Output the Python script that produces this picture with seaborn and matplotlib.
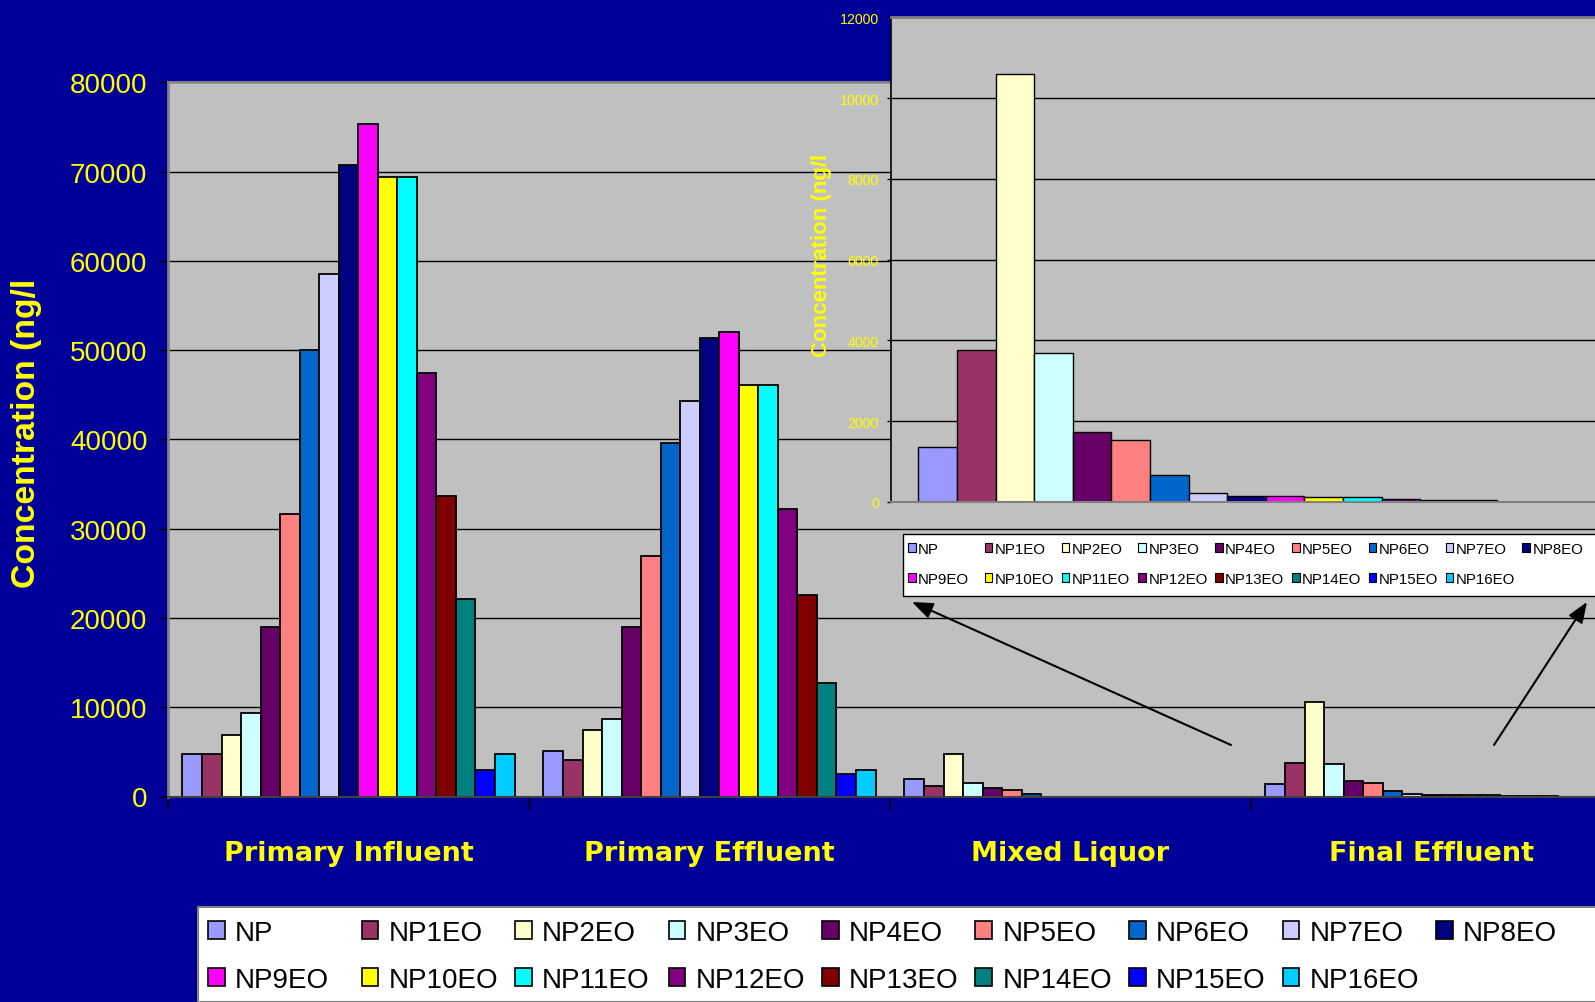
import matplotlib
matplotlib.use("Agg")
import matplotlib.pyplot as plt
from matplotlib import font_manager
from matplotlib.patches import Patch, Rectangle, FancyArrowPatch
import pandas as pd
import seaborn as sns

# ---- data -------------------------------------------------------------
locations = ["Primary Influent", "Primary Effluent", "Mixed Liquor", "Final Effluent"]
compounds = ["NP", "NP1EO", "NP2EO", "NP3EO", "NP4EO", "NP5EO", "NP6EO", "NP7EO",
             "NP8EO", "NP9EO", "NP10EO", "NP11EO", "NP12EO", "NP13EO", "NP14EO",
             "NP15EO", "NP16EO"]
colors = ["#9999FF", "#993366", "#FFFFCC", "#CCFFFF", "#660066", "#FF8080",
          "#0066CC", "#CCCCFF", "#000080", "#FF00FF", "#FFFF00", "#00FFFF",
          "#800080", "#800000", "#008080", "#0000FF", "#00CCFF"]

primary_influent = [4800, 4800, 6900, 9400, 19000, 31700, 50000, 58500, 70800,
                    75300, 69400, 69400, 47400, 33700, 22100, 3000, 4800]
primary_effluent = [5100, 4100, 7400, 8700, 19000, 26900, 39600, 44300, 51400,
                    52000, 46100, 46100, 32200, 22600, 12700, 2500, 3000]
mixed_liquor = [2000, 1200, 4800, 1500, 1000, 750, 250, 0, 0,
                0, 0, 0, 0, 0, 0, 0, 0]
final_effluent = [1365, 3760, 10600, 3690, 1725, 1545, 660, 225, 150,
                  150, 115, 115, 80, 50, 50, 0, 0]

main_ticks = [0, 10000, 20000, 30000, 40000, 50000, 60000, 70000, 80000]
inset_ticks = [0, 2000, 4000, 6000, 8000, 10000, 12000]
y_label = "Concentration (ng/l"

rows = []
for loc, vals in zip(locations, [primary_influent, primary_effluent,
                                 mixed_liquor, final_effluent]):
    for comp, v in zip(compounds, vals):
        rows.append((loc, comp, v))
df = pd.DataFrame(rows, columns=["Location", "Compound", "Concentration"])

# ---- styling ------------------------------------------------------------
BG = "#000099"
PLOT_BG = "#C0C0C0"
YELLOW = "#FFFF00"
plt.rcParams["font.family"] = ["Liberation Sans", "DejaVu Sans"]

names = {f.name for f in font_manager.fontManager.ttflist}
if "Liberation Sans Narrow" in names:
    narrow = "Liberation Sans Narrow"
    inset_tick_size, inset_leg_size = 12.3, 13.0
else:
    narrow = "Liberation Sans"
    inset_tick_size, inset_leg_size = 10.2, 10.8

W, H = 1595, 1003
fig = plt.figure(figsize=(W / 100, H / 100), dpi=100, facecolor=BG)


def fx(px):
    return px / W


def fy(py):
    return 1 - py / H


def hide_empty_bars(axis):
    # zero-height bars would otherwise leave an outline on the baseline
    for bar in axis.patches:
        if bar.get_height() == 0:
            bar.set_linewidth(0)


# ---- main chart ---------------------------------------------------------
ax = fig.add_axes([fx(168), fy(797.5), (1612 - 168) / W, (797.5 - 83.4) / H])
sns.barplot(data=df, x="Location", y="Concentration", hue="Compound",
            order=locations, hue_order=compounds, palette=colors, saturation=1,
            width=0.92, gap=0, errorbar=None, edgecolor="black", linewidth=1.3,
            legend=False, ax=ax)
hide_empty_bars(ax)
ax.set_facecolor(PLOT_BG)
ax.set_axisbelow(True)
ax.set_xlim(-0.5, 3.5)
ax.set_ylim(0, 80000)
ax.set_xlabel("")
ax.set_ylabel("")
ax.set_yticks(main_ticks)
ax.set_yticklabels([str(t) for t in main_ticks])
ax.yaxis.grid(True, color="black", linewidth=1)
ax.xaxis.grid(False)
ax.tick_params(axis="y", colors="black", labelcolor=YELLOW, labelsize=20,
               length=6.5, width=1, pad=8.3)
ax.set_xticks(range(len(locations)))
ax.set_xticklabels(locations, fontsize=19.5, fontweight="bold",
                   family="DejaVu Sans", color=YELLOW)
ax.tick_params(axis="x", which="major", length=0, pad=31)
ax.set_xticks([-0.5, 0.5, 1.5, 2.5, 3.5], minor=True)
ax.tick_params(axis="x", which="minor", length=9, width=1.2, color="black")
ax.spines["left"].set_color("#808080")
ax.spines["left"].set_linewidth(2)
ax.spines["top"].set_color("#808080")
ax.spines["top"].set_linewidth(1.5)
ax.spines["bottom"].set_color("#404040")
ax.spines["bottom"].set_linewidth(1.5)
ax.spines["right"].set_visible(False)

fig.text(fx(26.5), fy(433), y_label, rotation=90, ha="center", va="center",
         color=YELLOW, fontsize=24.3, fontweight="bold")

# ---- inset: final effluent on its own scale ---------------------------------
axin = fig.add_axes([fx(891), fy(503), (1602 - 891) / W, (503 - 18.3) / H])
sns.barplot(data=df[df["Location"] == "Final Effluent"], x="Location",
            y="Concentration", hue="Compound", hue_order=compounds,
            palette=colors, saturation=1, width=0.923, gap=0, errorbar=None,
            edgecolor="black", linewidth=1.0, legend=False, ax=axin)
hide_empty_bars(axin)
axin.set_facecolor(PLOT_BG)
axin.set_axisbelow(True)
axin.set_xlim(-0.5, 0.5)
axin.set_ylim(0, 12000)
axin.set_xlabel("")
axin.set_ylabel("")
axin.set_xticks([])
axin.set_yticks(inset_ticks)
axin.set_yticklabels([str(t) for t in inset_ticks], family=narrow,
                     fontsize=inset_tick_size, color=YELLOW)
axin.yaxis.grid(True, color="black", linewidth=1)
axin.tick_params(axis="y", colors="black", labelcolor=YELLOW, length=3,
                 width=1, pad=5.8)
axin.spines["left"].set_color("black")
axin.spines["left"].set_linewidth(1.2)
axin.spines["top"].set_color("#808080")
axin.spines["top"].set_linewidth(2)
axin.spines["bottom"].set_color("#808080")
axin.spines["bottom"].set_linewidth(1.5)
axin.spines["right"].set_visible(False)

fig.text(fx(821), fy(255), y_label, rotation=90, ha="center", va="center",
         color=YELLOW, fontsize=16, fontweight="bold")

# ---- legends -------------------------------------------------------------
fig.add_artist(Rectangle((fx(197.7), 0), 1.0, (H - 908.3) / H,
                         transform=fig.transFigure, facecolor="white",
                         edgecolor="#808080", linewidth=1.5, zorder=3))
fig.add_artist(Rectangle((fx(903), fy(597)), 1.0, (597 - 534.5) / H,
                         transform=fig.transFigure, facecolor="white",
                         edgecolor="black", linewidth=1.0, zorder=3))


def legend_grid(x0, pitch, y_top, size, family, hl, hh, htp, ls, lw):
    ncols = 9
    for c in range(ncols):
        idx = [c] + ([c + ncols] if c + ncols < len(compounds) else [])
        handles = [Patch(facecolor=colors[i], edgecolor="black", linewidth=lw)
                   for i in idx]
        labels = [compounds[i] for i in idx]
        fig.legend(handles, labels, loc="upper left",
                   bbox_to_anchor=(fx(x0 + c * pitch), fy(y_top)),
                   frameon=False, borderpad=0, borderaxespad=0,
                   handlelength=hl, handleheight=hh, handletextpad=htp,
                   labelspacing=ls, prop={"family": family, "size": size})


legend_grid(208, 153.5, 921, 20, "Liberation Sans", 0.61, 0.61, 0.36, 0.75, 1.2)
legend_grid(908, 76.8, 543, inset_leg_size, narrow, 0.5, 0.5, 0.17, 1.05, 0.8)

# ---- arrows pointing to the inset ------------------------------------------
for start, end in [((1231, 746), (912, 603)), ((1494, 746), (1587, 603))]:
    fig.add_artist(FancyArrowPatch((fx(start[0]), fy(start[1])),
                                   (fx(end[0]), fy(end[1])),
                                   transform=fig.transFigure,
                                   arrowstyle="-|>,head_length=0.9,head_width=0.35",
                                   mutation_scale=14, color="black", linewidth=1.5,
                                   shrinkA=0, shrinkB=0, zorder=4))

fig.savefig("out.png", dpi=100, facecolor=fig.get_facecolor())
